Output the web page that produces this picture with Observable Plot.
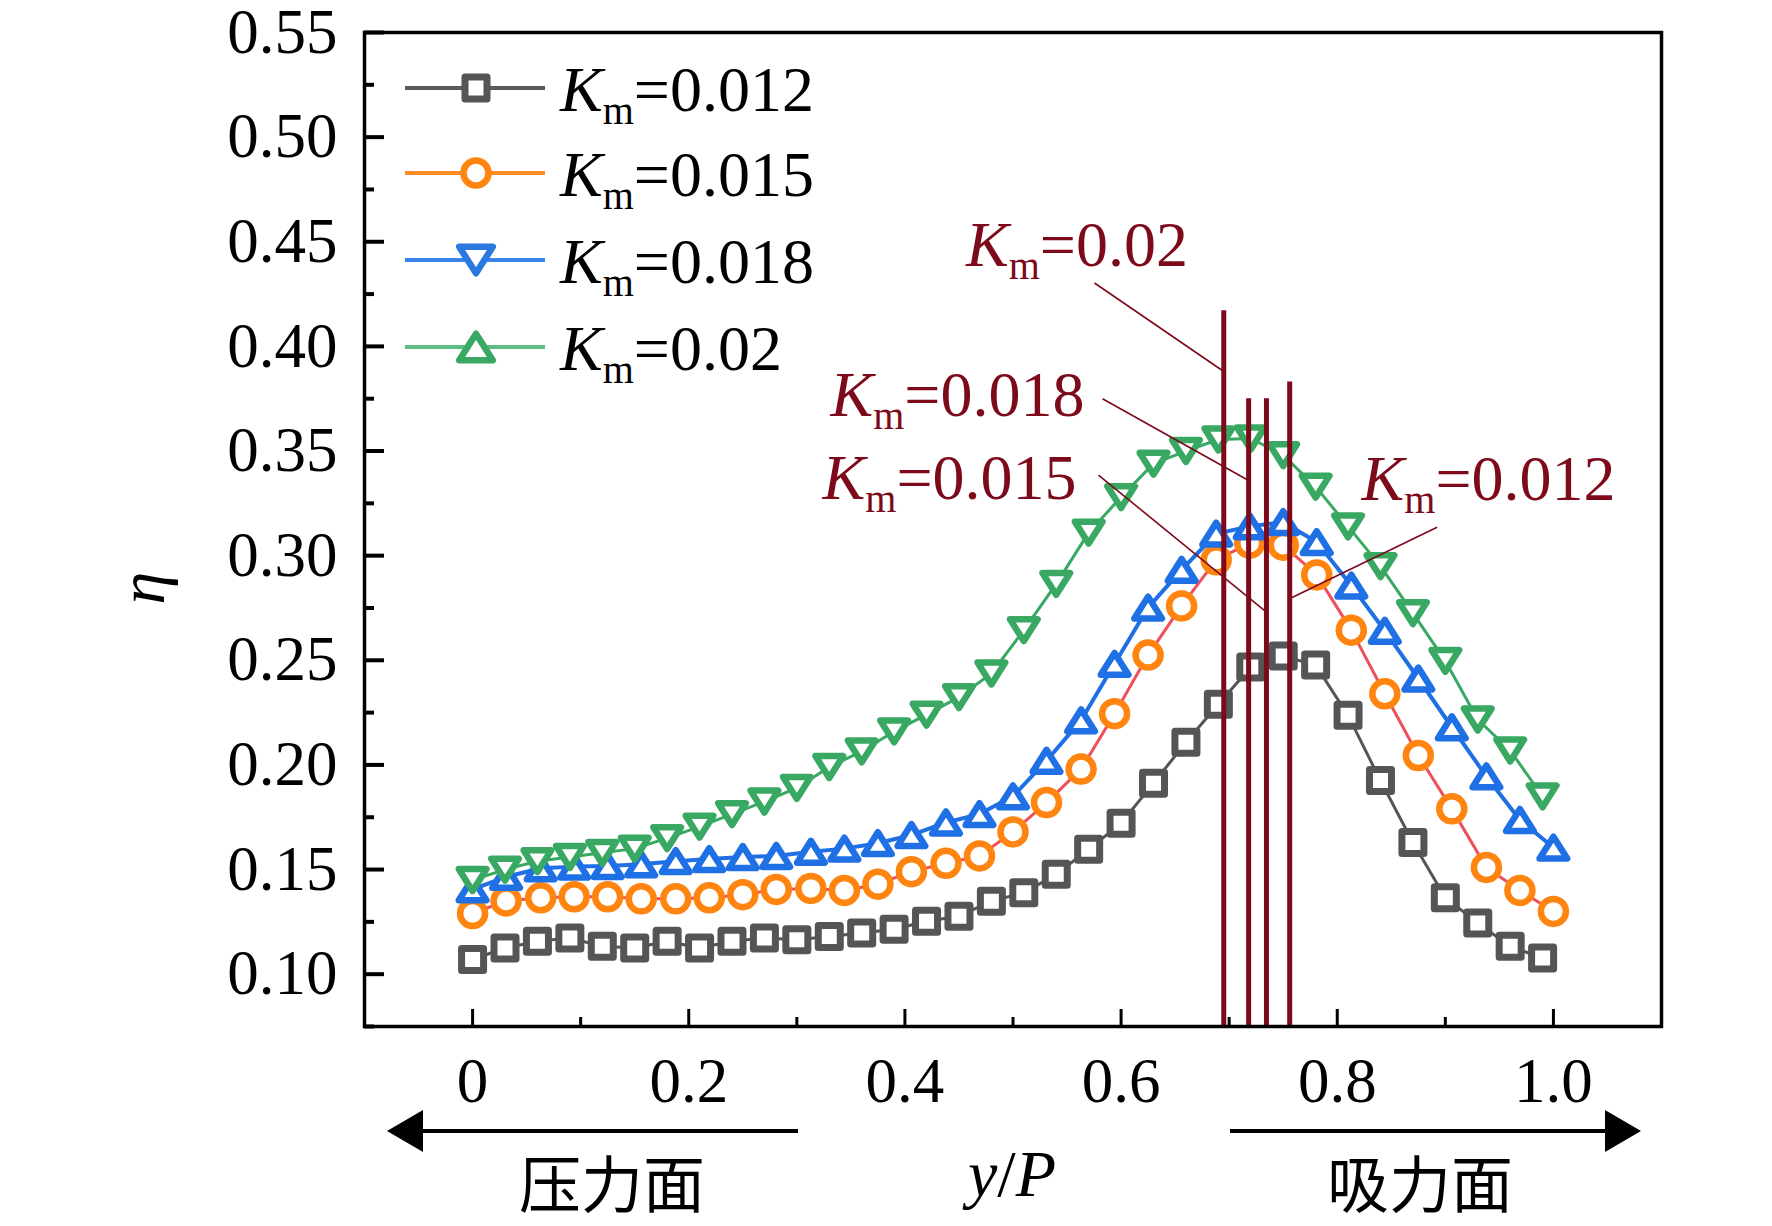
<!DOCTYPE html>
<html>
<head>
<meta charset="utf-8">
<script src="https://cdn.jsdelivr.net/npm/d3@7"></script>
<script src="https://cdn.jsdelivr.net/npm/@observablehq/plot@0.6"></script>
<style>
  html, body { margin: 0; padding: 0; background: #fff; overflow: hidden; }
  #chart svg { display: block; }
</style>
</head>
<body>
<div id="chart"></div>
<script>
// ---------------- DATA ----------------
// series labels (Km values)
const kmLabels = ["0.012", "0.015", "0.018", "0.02"];

// x positions (y/P) for Km=0.012 and Km=0.02 series
const xA = [0, 0.03, 0.06, 0.09, 0.12, 0.15, 0.18, 0.21, 0.24, 0.27, 0.30, 0.33, 0.36, 0.39, 0.42, 0.45, 0.48,
            0.51, 0.54, 0.57, 0.60, 0.63, 0.66, 0.69, 0.72, 0.75, 0.78, 0.81, 0.84, 0.87, 0.90, 0.93, 0.96, 0.99];
// x positions (y/P) for Km=0.015 and Km=0.018 series
const xB = [0, 0.031, 0.063, 0.094, 0.125, 0.156, 0.188, 0.219, 0.25, 0.281, 0.313, 0.344, 0.375, 0.406, 0.438,
            0.469, 0.5, 0.531, 0.563, 0.594, 0.625, 0.656, 0.688, 0.719, 0.75, 0.781, 0.813, 0.844, 0.875, 0.906,
            0.938, 0.969, 1.0];

const eta012 = [0.107, 0.1125, 0.1157, 0.1173, 0.1133, 0.1125, 0.1157, 0.1125, 0.1157, 0.1173,
                0.1165, 0.118, 0.1197, 0.1215, 0.1253, 0.1277, 0.1349, 0.1389, 0.1477, 0.1597,
                0.1721, 0.1913, 0.2108, 0.229, 0.2468, 0.252, 0.2477, 0.2237, 0.1925, 0.1629,
                0.1365, 0.1245, 0.1133, 0.1077];
const eta015 = [0.129, 0.135, 0.1365, 0.137, 0.137, 0.136, 0.136, 0.1365, 0.138, 0.1405,
                0.141, 0.140, 0.143, 0.149, 0.153, 0.1565, 0.168, 0.182, 0.198, 0.2245,
                0.2525, 0.276, 0.298, 0.306, 0.305, 0.2908, 0.2644, 0.234, 0.2045, 0.179,
                0.151, 0.140, 0.130];
const eta018 = [0.1405, 0.1465, 0.1506, 0.1514, 0.1517, 0.1525, 0.154, 0.155, 0.156, 0.1565,
                0.1585, 0.160, 0.1626, 0.1665, 0.1725, 0.1765, 0.185, 0.202, 0.2213, 0.2483,
                0.2752, 0.2932, 0.3105, 0.314, 0.316, 0.3065, 0.2857, 0.2641, 0.2413, 0.218,
                0.1945, 0.1737, 0.1605];
const eta02  = [0.145, 0.150, 0.154, 0.156, 0.158, 0.160, 0.165, 0.1705, 0.1765, 0.1825,
                0.189, 0.199, 0.2065, 0.216, 0.224, 0.2324, 0.2437, 0.2644, 0.2865, 0.311,
                0.328, 0.344, 0.350, 0.3555, 0.356, 0.348, 0.333, 0.314, 0.295, 0.2725,
                0.2497, 0.2217, 0.2069, 0.185];

// peak-position marker lines (order: 0.012, 0.015, 0.018, 0.02)
const peakX   = [0.756, 0.7345, 0.718, 0.695];
const peakTop = [0.383, 0.375, 0.375, 0.417];

// annotation label anchors (text start, baseline) and leader lines, same order
const annoX  = [0.823, 0.3243, 0.3316, 0.457];
const annoY  = [0.3264, 0.3266, 0.3665, 0.4384];
const leadX1 = [0.8924, 0.5791, 0.5828, 0.5754];
const leadY1 = [0.3136, 0.3385, 0.375, 0.4303];
const leadX2 = [0.7558, 0.7345, 0.718, 0.695];
const leadY2 = [0.2794, 0.273, 0.3359, 0.388];

// axes ticks
const yMajor = [0.10, 0.15, 0.20, 0.25, 0.30, 0.35, 0.40, 0.45, 0.50, 0.55];
const yMinor = [0.075, 0.125, 0.175, 0.225, 0.275, 0.325, 0.375, 0.425, 0.475, 0.525];
const xMajor = [0, 0.2, 0.4, 0.6, 0.8, 1.0];
const xMinor = [0.1, 0.3, 0.5, 0.7, 0.9];
const xTickLabels = ["0", "0.2", "0.4", "0.6", "0.8", "1.0"];

const sideLeft = "压力面", sideRight = "吸力面";

// ---------------- STYLE ----------------
const W = 1772, H = 1226;
const M = {top: 32, right: 111, bottom: 200, left: 364};
const plotW = W - M.left - M.right, plotH = H - M.top - M.bottom;
const SERIF = "'Liberation Serif', 'Times New Roman', serif";
const CJK = "'Noto Sans CJK SC', sans-serif";
const DARKRED = "#7d0a1a";

function sym(fn) { return {draw(ctx, size) { fn(ctx, Math.sqrt(size / Math.PI)); }}; }
const squareSym = sym((c, r) => { c.moveTo(-r, -r); c.lineTo(r, -r); c.lineTo(r, r); c.lineTo(-r, r); c.closePath(); });
const circleSym = sym((c, r) => { c.moveTo(r, 0); c.arc(0, 0, r, 0, 2 * Math.PI); c.closePath(); });
const triUpSym = sym((c, r) => { c.moveTo(0, -0.95 * r); c.lineTo(1.2 * r, 0.95 * r); c.lineTo(-1.2 * r, 0.95 * r); c.closePath(); });
const triDownSym = sym((c, r) => { c.moveTo(0, 0.95 * r); c.lineTo(1.2 * r, -0.95 * r); c.lineTo(-1.2 * r, -0.95 * r); c.closePath(); });

const series = [
  {xs: xA, ys: eta012, line: "#555555", lw: 3, mark: "#555555", symbol: squareSym, r: 11, sw: 7},
  {xs: xB, ys: eta015, line: "#ef4f5a", lw: 3, mark: "#ff8410", symbol: circleSym, r: 12.5, sw: 6.5},
  {xs: xB, ys: eta018, line: "#1f6fe5", lw: 4, mark: "#1f6fe5", symbol: triUpSym, r: 11.5, sw: 6.5},
  {xs: xA, ys: eta02,  line: "#38a862", lw: 3, mark: "#38a862", symbol: triDownSym, r: 11.5, sw: 6.5}
];
// legend (as drawn in the reference)
const legendStyle = [
  {line: "#5a5a5a", mark: "#555555", symbol: squareSym, r: 11, sw: 7},
  {line: "#ff8b24", mark: "#ff8410", symbol: circleSym, r: 12.5, sw: 6.5},
  {line: "#3a86e8", mark: "#2a78e0", symbol: triDownSym, r: 14, sw: 6.5},
  {line: "#5cbd85", mark: "#3aa863", symbol: triUpSym, r: 14, sw: 6.5}
];

const idx = a => a.map((_, i) => i);

const marks = [];
for (const s of series) {
  marks.push(Plot.line(idx(s.xs), {x: i => s.xs[i], y: i => s.ys[i], stroke: s.line, strokeWidth: s.lw}));
  marks.push(Plot.dot(idx(s.xs), {x: i => s.xs[i], y: i => s.ys[i], symbol: s.symbol, r: s.r,
    stroke: s.mark, strokeWidth: s.sw, fill: "white", strokeLinejoin: "round"}));
}
marks.push(
  Plot.ruleX(idx(peakX), {x: i => peakX[i], y1: 0.075, y2: i => peakTop[i], stroke: DARKRED, strokeWidth: 5}),
  Plot.link(idx(leadX1), {x1: i => leadX1[i], y1: i => leadY1[i], x2: i => leadX2[i], y2: i => leadY2[i],
    stroke: DARKRED, strokeWidth: 1.6}),
  Plot.tickY(yMajor, {y: d => d, insetRight: plotW - 20, stroke: "black", strokeWidth: 4}),
  Plot.tickY(yMinor, {y: d => d, insetRight: plotW - 10, stroke: "black", strokeWidth: 4}),
  Plot.tickX(xMajor, {x: d => d, insetTop: plotH - 17, stroke: "black", strokeWidth: 3}),
  Plot.tickX(xMinor, {x: d => d, insetTop: plotH - 9, stroke: "black", strokeWidth: 3}),
  Plot.frame({stroke: "black", strokeWidth: 3.5}),
  Plot.axisY({ticks: yMajor, tickSize: 0, tickPadding: 27, tickFormat: d => d.toFixed(2), label: null,
    fontSize: 63, fontFamily: SERIF}),
  Plot.axisX({ticks: xMajor, tickSize: 0, tickPadding: 31, tickFormat: d => xTickLabels[xMajor.indexOf(d)],
    label: null, fontSize: 63, fontFamily: SERIF})
);

const plot = Plot.plot({
  width: W, height: H,
  marginTop: M.top, marginRight: M.right, marginBottom: M.bottom, marginLeft: M.left,
  x: {domain: [-0.1, 1.1]},
  y: {domain: [0.075, 0.55]},
  style: {fontFamily: SERIF, fontSize: "63px", color: "black", background: "white"},
  marks
});
document.getElementById("chart").appendChild(plot);

// ---------------- ANNOTATIONS ----------------
const svg = d3.select(plot);
const sx = plot.scale("x"), sy = plot.scale("y");

function kmText(g, x, y, value, color) {
  const t = g.append("text").attr("x", x).attr("y", y).attr("fill", color)
    .attr("text-anchor", "start").attr("font-family", SERIF).attr("font-size", 64);
  t.append("tspan").attr("font-style", "italic").text("K");
  t.append("tspan").attr("font-size", 40).attr("dy", 13).text("m");
  t.append("tspan").attr("dy", -13).text("=" + value);
}

const ann = svg.append("g").attr("text-anchor", "start");
kmLabels.forEach((lab, i) => kmText(ann, sx.apply(annoX[i]), sy.apply(annoY[i]), lab, DARKRED));

// legend
const leg = svg.append("g").attr("text-anchor", "start");
const rowY = [88, 173, 260, 347];
kmLabels.forEach((lab, i) => {
  const st = legendStyle[i], y = rowY[i];
  leg.append("line").attr("x1", 405).attr("x2", 545).attr("y1", y).attr("y2", y)
    .attr("stroke", st.line).attr("stroke-width", 4);
  leg.append("path").attr("transform", `translate(476,${y})`)
    .attr("d", d3.symbol(st.symbol, Math.PI * st.r * st.r)())
    .attr("fill", "white").attr("stroke", st.mark).attr("stroke-width", st.sw).attr("stroke-linejoin", "round");
  kmText(leg, 560, y + 23, lab, "black");
});

// y-axis title
svg.append("text").attr("transform", "translate(164,588) rotate(-90)")
  .attr("text-anchor", "middle").attr("font-family", SERIF).attr("font-size", 66)
  .attr("font-style", "italic").attr("fill", "black").text("η");

// bottom arrows
const ay = 1131;
const bottom = svg.append("g");
bottom.append("line").attr("x1", 420).attr("x2", 798).attr("y1", ay).attr("y2", ay)
  .attr("stroke", "black").attr("stroke-width", 4);
bottom.append("path").attr("d", `M387,${ay} L423,${ay - 21} L423,${ay + 21} Z`).attr("fill", "black");
bottom.append("line").attr("x1", 1230).attr("x2", 1608).attr("y1", ay).attr("y2", ay)
  .attr("stroke", "black").attr("stroke-width", 4);
bottom.append("path").attr("d", `M1641,${ay} L1605,${ay - 21} L1605,${ay + 21} Z`).attr("fill", "black");

bottom.append("text").attr("x", 612).attr("y", 1208).attr("text-anchor", "middle")
  .attr("font-family", CJK).attr("font-size", 62).attr("fill", "black").text(sideLeft);
bottom.append("text").attr("x", 1420).attr("y", 1208).attr("text-anchor", "middle")
  .attr("font-family", CJK).attr("font-size", 62).attr("fill", "black").text(sideRight);
const yp = bottom.append("text").attr("x", 1012).attr("y", 1196).attr("text-anchor", "middle")
  .attr("font-family", SERIF).attr("font-size", 66).attr("fill", "black");
yp.append("tspan").attr("font-style", "italic").text("y");
yp.append("tspan").text("/");
yp.append("tspan").attr("font-style", "italic").text("P");
</script>
</body>
</html>
